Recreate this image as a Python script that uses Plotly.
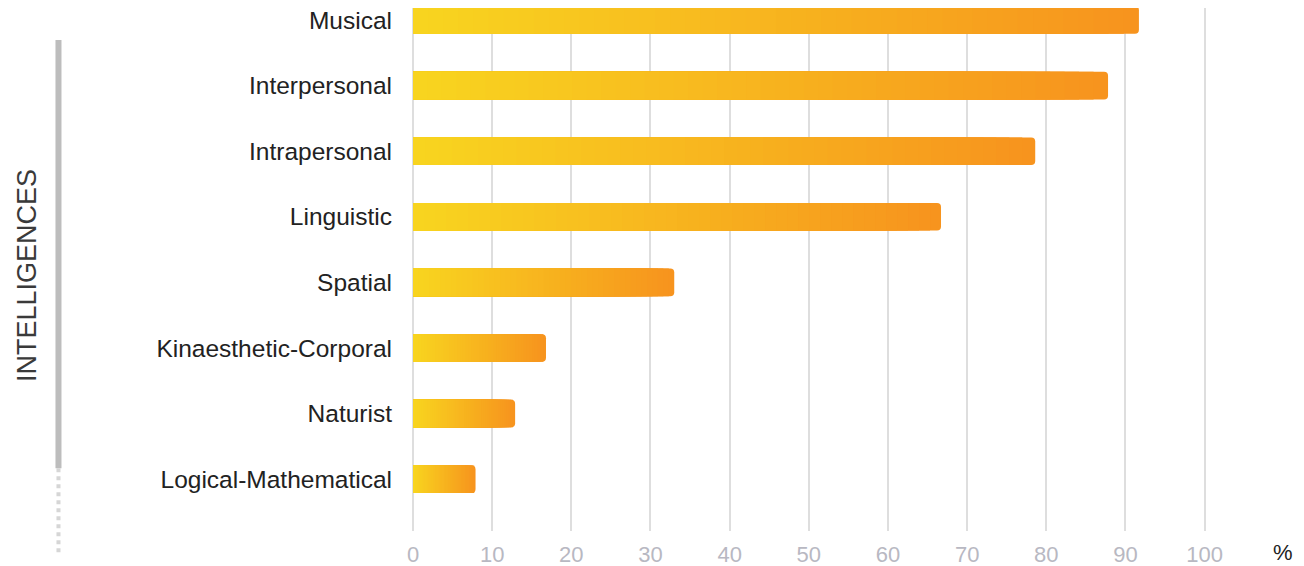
import plotly.graph_objects as go

# ---- data (top to bottom as shown) ----
categories = ["Musical", "Interpersonal", "Intrapersonal", "Linguistic",
              "Spatial", "Kinaesthetic-Corporal", "Naturist", "Logical-Mathematical"]
values = [91.7, 87.8, 78.6, 66.7, 33.0, 16.8, 12.9, 7.9]
x_ticks = [0, 10, 20, 30, 40, 50, 60, 70, 80, 90, 100]

# gradient colours (start of bar -> end of bar)
c_start = (248, 213, 31)
c_end = (247, 147, 30)
N = 48

FONT = "Liberation Sans"

fig = go.Figure()
for k in range(N):
    frac = 1 - k / N  # this layer's length as a fraction of the bar
    t = 1 - (k + 0.5) / N
    col = tuple(round(c_start[i] + (c_end[i] - c_start[i]) * t) for i in range(3))
    fig.add_trace(go.Bar(
        y=categories,
        x=[v * frac for v in values],
        orientation="h",
        width=0.42,
        marker=dict(color="rgb(%d,%d,%d)" % col, line=dict(width=0),
                    cornerradius=4 if k == 0 else 0),
        showlegend=False,
        hoverinfo="skip" if k else None,
    ))

fig.update_layout(
    width=1296, height=558,
    barmode="overlay",
    plot_bgcolor="white", paper_bgcolor="white",
    margin=dict(l=405, r=97, t=0, b=35, autoexpand=False),
    font=dict(family=FONT, color="#222222"),
    xaxis=dict(range=[0, 100.3], tickvals=x_ticks, showgrid=True,
               gridcolor="#dedede", gridwidth=2, zeroline=True,
               zerolinecolor="#dedede", zerolinewidth=2, automargin=False,
               tickfont=dict(size=22, color="#b8b8c2", family=FONT),
               ticklabelstandoff=8, showline=False),
    yaxis=dict(categoryorder="array", categoryarray=categories[::-1],
               range=[-0.79, 7.183], showgrid=False, zeroline=False, automargin=False,
               tickfont=dict(size=24.5, color="#222222", family=FONT),
               ticklabelstandoff=20, showline=False),
    annotations=[
        dict(text="%", xref="paper", yref="paper", x=1.096, y=-0.042,
             showarrow=False, font=dict(size=22, color="#222222", family=FONT),
             xanchor="center", yanchor="middle"),
        dict(text="INTELLIGENCES", xref="paper", yref="paper", x=-0.486, y=0.4876,
             textangle=-90, showarrow=False,
             font=dict(size=27, color="#3a3a3a", family=FONT),
             xanchor="center", yanchor="middle"),
    ],
    shapes=[
        dict(type="line", xref="paper", yref="paper", x0=-0.4465, x1=-0.4465,
             y0=0.939, y1=0.12, line=dict(color="#bdbdbd", width=6)),
        dict(type="line", xref="paper", yref="paper", x0=-0.4465, x1=-0.4465,
             y0=0.12, y1=-0.046, line=dict(color="#d6d6d6", width=4, dash="dot")),
    ],
)

fig.write_html("out.html")
